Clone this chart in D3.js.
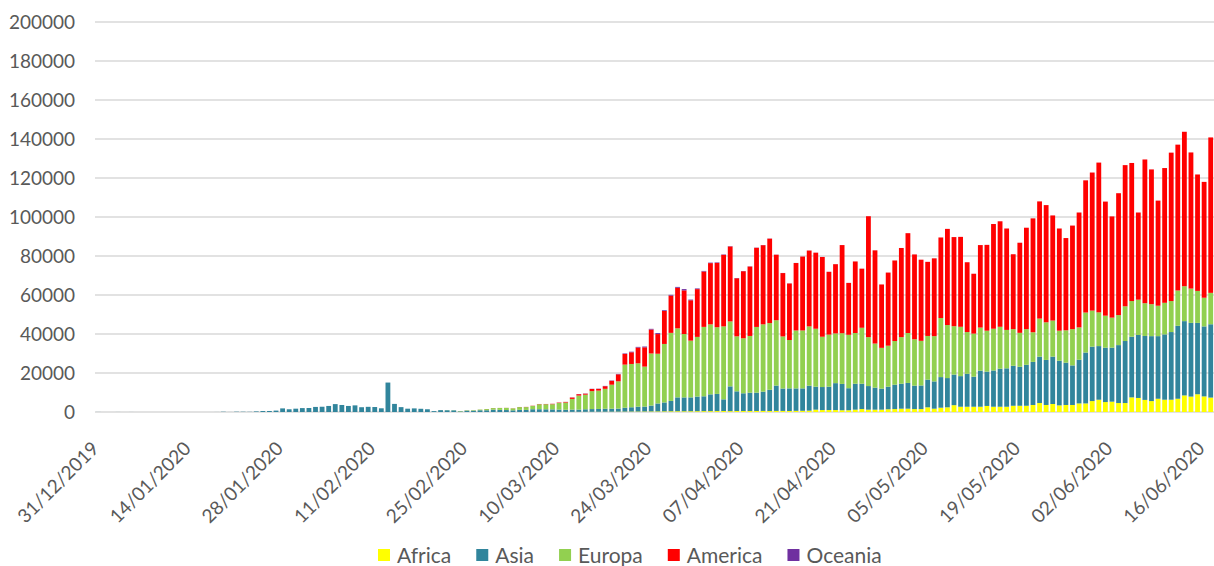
<!DOCTYPE html>
<html><head><meta charset="utf-8">
<script src="https://cdn.jsdelivr.net/npm/d3@7"></script>
<style>
html,body{margin:0;padding:0;background:#fff;}
svg{display:block;font-family:Lato,"Open Sans",sans-serif;}
</style></head>
<body>
<svg id="chart" width="1214" height="566"></svg>
<script>
// ---- DATA (daily new cases by continent, 31/12/2019 .. 17/06/2020) ----
const startDate = new Date(2019, 11, 31);
const dayCount = 170;
const seriesNames = ["Africa", "Asia", "Europa", "America", "Oceania"];
const seriesColors = ["#FFFF00", "#31859C", "#92D050", "#FF0000", "#7030A0"];
const yTicks = [0, 20000, 40000, 60000, 80000, 100000, 120000, 140000, 160000, 180000, 200000];
const xTickLabels = ["31/12/2019","14/01/2020","28/01/2020","11/02/2020","25/02/2020","10/03/2020","24/03/2020","07/04/2020","21/04/2020","05/05/2020","19/05/2020","02/06/2020","16/06/2020"];

const africa = [
0,0,0,0,0,0,0,0,0,0,
0,0,0,0,0,0,0,0,0,0,
0,0,0,0,0,0,0,0,0,0,
0,0,0,0,0,0,0,0,0,0,
0,0,0,0,0,0,0,0,0,0,
0,0,0,0,0,0,1,0,2,1,
2,5,3,5,10,15,20,25,30,40,
45,60,70,80,90,100,120,130,150,180,
200,230,250,280,300,320,350,380,400,380,
400,420,450,450,480,500,450,500,500,500,
520,550,500,560,550,520,600,620,700,1200,
1000,1000,1000,900,900,1200,1500,1200,1200,1200,
1400,1500,1700,1700,1500,1500,2400,1700,2200,2400,
3500,2700,2700,2700,2700,3100,2700,2700,2700,3200,
3200,3200,3600,4600,3600,4100,3400,3600,3600,4400,
4400,5600,6300,5100,5300,4600,4600,7500,7200,6200,
5600,6800,6300,6300,6800,8500,7900,9100,8000,7400];

const asia = [
27,0,0,17,0,15,0,0,0,0,
0,0,1,1,1,0,1,4,17,136,
19,151,140,97,300,500,520,720,1850,1400,
1700,2000,2050,2600,2700,3100,4050,3600,3100,3400,
2450,2650,2550,1900,15100,4150,2500,1700,1850,1650,
1400,450,950,900,850,300,700,700,900,900,
1200,1100,1000,850,1100,1050,1400,1400,1350,1300,
1200,1100,1150,1150,1300,1400,1450,1550,1550,1550,
2000,2200,2500,2500,3000,4050,4550,5300,7100,7100,
7100,7500,7600,8600,8800,6000,12700,10100,9100,9400,
9400,9900,10900,13000,11500,11600,11500,11500,12800,11800,
11800,12000,13800,13500,11300,13300,13000,12100,11300,10800,
11600,12500,12800,13200,12000,12100,14200,14000,15700,15000,
15700,15700,16900,15400,18500,17600,18600,19500,19700,20500,
20000,21000,22100,23800,23100,24300,22900,21700,20300,22400,
26100,27900,27500,27900,27700,29700,31800,31100,32300,32800,
33300,32100,33500,34700,37400,38100,37800,36600,35900,37600];

const europa = [
0,0,0,0,0,0,0,0,0,0,
0,0,0,0,0,0,0,0,0,0,
0,0,0,0,2,0,0,0,1,1,
2,1,1,1,2,1,1,2,2,2,
3,3,1,0,3,1,2,1,1,0,
0,5,20,60,80,200,200,250,350,600,
800,950,1100,1000,1400,1450,1700,2550,2600,2650,
3400,3700,5500,7200,7500,9200,9400,10200,12300,14000,
22100,22200,22200,20500,26700,25500,30000,34900,35400,32500,
29100,30600,35600,35900,34200,37400,33300,28200,28200,29100,
33700,34500,34200,33500,26700,24800,29700,29700,30400,29700,
25800,26700,25500,26000,27400,26000,28700,25100,22600,20900,
21000,22400,23900,25600,23800,22900,22400,23200,30300,27200,
24800,25300,21400,22100,22100,21000,21400,21500,19700,18800,
17400,18300,15200,19500,19300,18500,15400,16600,18600,16600,
20500,18500,17300,16400,15400,15400,17800,18300,18100,16800,
16400,15600,16200,15900,18100,17900,17600,16400,14700,16100];

const america = [
0,0,0,0,0,0,0,0,0,0,
0,0,0,0,0,0,0,0,0,0,
0,1,0,0,1,1,2,0,0,0,
1,1,1,2,0,1,0,1,0,0,
1,0,1,0,1,0,1,0,0,0,
0,1,2,0,0,10,20,15,20,30,
40,30,40,60,60,90,100,120,120,200,
200,300,700,700,500,1100,900,1350,2000,3600,
5500,6000,8100,9900,12300,10100,16900,19100,20800,22400,
20700,24500,28400,31400,33000,36700,38450,29800,34400,35600,
40600,40600,43300,33600,32500,29000,34600,37900,38900,39000,
40900,32200,35500,45200,26600,36700,30300,62000,47800,32500,
37500,41300,45700,51200,43500,41600,38000,39900,41300,49300,
45700,46100,35800,30700,42300,44000,53700,54100,52000,38400,
46200,52000,58400,60100,60100,53900,52400,47300,53100,58900,
67800,70800,76800,58500,51900,62500,72400,70800,44700,73700,
69100,53900,69100,76100,74800,79200,69800,59700,59400,79700];

const oceania = [
0,0,0,0,0,0,0,0,0,0,
0,0,0,0,0,0,0,0,0,0,
0,0,0,0,0,1,1,0,1,0,
0,2,1,0,1,0,0,0,0,0,
0,0,0,0,0,0,0,0,0,0,
0,0,0,0,0,0,0,0,1,1,
2,3,2,6,5,10,15,20,25,30,
30,40,60,80,100,100,110,150,180,200,
250,300,350,400,350,500,400,400,450,650,
350,350,300,250,250,200,150,120,100,100,
90,80,70,60,50,50,40,40,30,30,
25,25,20,20,20,20,20,20,15,15,
15,15,15,15,15,15,15,15,15,15,
15,15,15,15,15,15,15,15,15,15,
12,12,12,12,12,12,12,12,12,12,
10,10,10,10,10,10,10,10,10,10,
15,15,15,15,15,15,15,15,15,15];

// ---- BUILD ----
const seriesData = [africa, asia, europa, america, oceania];
const dates = d3.timeDay.range(startDate, d3.timeDay.offset(startDate, dayCount));
const fmt = d3.timeFormat("%d/%m/%Y");
const rows = dates.map((d, i) => {
  const r = {date: fmt(d)};
  seriesNames.forEach((n, k) => r[n] = seriesData[k][i]);
  return r;
});

const svg = d3.select("#chart");
const plot = {left: 95, right: 1214, top: 22, bottom: 412};

const x = d3.scaleBand().domain(rows.map(r => r.date)).range([plot.left, plot.right]).paddingInner(0.27).paddingOuter(0.135);
const y = d3.scaleLinear().domain([0, 200000]).range([plot.bottom, plot.top]);

// gridlines
svg.append("g").selectAll("line").data(yTicks).join("line")
  .attr("x1", plot.left).attr("x2", plot.right)
  .attr("y1", d => y(d)).attr("y2", d => y(d))
  .attr("stroke", "#d9d9d9").attr("stroke-width", 1.5);

// y-axis labels
const yAxis = d3.axisLeft(y).tickValues(yTicks).tickFormat(d3.format("d")).tickSize(0).tickPadding(0);
const gy = svg.append("g").attr("transform", "translate(75,0)").call(yAxis);
gy.select(".domain").remove();
gy.selectAll("text").attr("font-size", 19).attr("fill", "#595959").attr("font-family", "Lato");

// stacked bars
const stack = d3.stack().keys(seriesNames);
const layers = stack(rows);
svg.append("g").selectAll("g").data(layers).join("g")
  .attr("fill", (d, k) => seriesColors[k])
  .selectAll("rect").data(d => d).join("rect")
  .attr("x", d => x(d.data.date))
  .attr("width", x.bandwidth())
  .attr("y", d => y(d[1]))
  .attr("height", d => Math.max(0, y(d[0]) - y(d[1])));

// x-axis labels
const xAxis = d3.axisBottom(x).tickValues(xTickLabels).tickSize(0).tickPadding(0);
const gx = svg.append("g").attr("transform", `translate(0,${plot.bottom})`).call(xAxis);
gx.select(".domain").remove();
gx.selectAll("text")
  .attr("font-size", 19).attr("fill", "#595959").attr("font-family", "Lato")
  .attr("text-anchor", "end")
  .attr("y", 0).attr("dy", "0.35em")
  .attr("transform", "translate(-3,33) rotate(-45)");

// legend
const lg = svg.append("g");
let lx = 378;
seriesNames.forEach((n, k) => {
  lg.append("rect").attr("x", lx).attr("y", 549).attr("width", 12).attr("height", 12).attr("fill", seriesColors[k]);
  const t = lg.append("text").attr("x", lx + 19).attr("y", 563).text(n)
    .attr("font-size", 21).attr("fill", "#595959").attr("font-family", "Lato");
  lx += 19 + t.node().getComputedTextLength() + 25;
});
</script>
</body></html>
